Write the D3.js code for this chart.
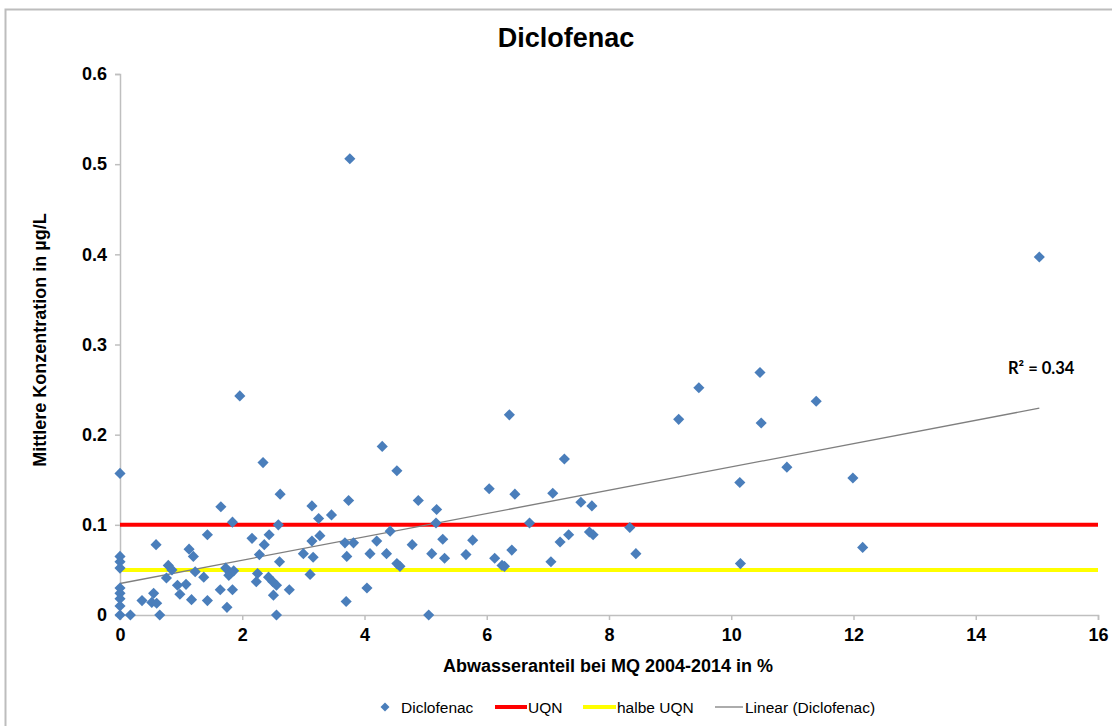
<!DOCTYPE html>
<html>
<head>
<meta charset="utf-8">
<script src="https://cdn.jsdelivr.net/npm/d3@7"></script>
<style>
  html, body { margin: 0; padding: 0; background: #fff; }
  svg { display: block; font-family: "Liberation Sans", Arial, sans-serif; }
</style>
</head>
<body>
<svg id="chart" width="1112" height="726"></svg>
<script>
// Share of wastewater at mean discharge (%) per site
const abwasseranteil = [
  0, 0, 0, 0, 0, 0, 0, 0, 0,
  0.17, 0.36, 0.55, 0.52, 0.60, 0.59, 0.65, 0.79, 0.85, 0.76, 0.94,
  0.98, 1.08, 1.13, 1.20, 1.17, 1.23, 1.37, 1.43, 1.43, 1.64,
  1.65, 1.73, 1.75, 1.81, 1.84, 1.84, 1.78, 1.86, 1.96, 2.16,
  2.23, 2.25, 2.28, 2.34, 2.36, 2.43, 2.44, 2.50, 2.51, 2.56,
  2.56, 2.59, 2.61, 2.62, 2.77, 3.00, 3.11, 3.14, 3.14, 3.16,
  3.25, 3.27, 3.46, 3.68, 3.70, 3.71, 3.74, 3.76, 3.82, 4.04,
  4.09, 4.20, 4.29, 4.36, 4.42, 4.53, 4.53, 4.58, 4.78, 4.88,
  5.05, 5.10, 5.17, 5.18, 5.28, 5.31, 5.66, 5.77, 6.04, 6.13,
  6.25, 6.29, 6.37, 6.41, 6.46, 6.70, 7.05, 7.08, 7.20, 7.27,
  7.34, 7.54, 7.68, 7.72, 7.74, 8.34, 8.44, 9.14, 9.47, 10.14,
  10.15, 10.47, 10.49, 10.91, 11.39, 11.99, 12.15, 15.04
];
// Mean diclofenac concentration (µg/L) per site
const konzentration = [
  0.157, 0.065, 0.059, 0.052, 0.030, 0.024, 0.018, 0.010, 0,
  0, 0.016, 0.024, 0.014, 0.013, 0.078, 0, 0.055, 0.050, 0.041, 0.033,
  0.023, 0.034, 0.073, 0.065, 0.017, 0.048, 0.042, 0.089, 0.016, 0.028,
  0.120, 0.052, 0.0085, 0.046, 0.103, 0.028, 0.044, 0.049, 0.243, 0.085,
  0.037, 0.046, 0.067, 0.169, 0.078, 0.042, 0.089, 0.037, 0.022, 0.033,
  0, 0.100, 0.059, 0.134, 0.028, 0.068, 0.045, 0.121, 0.082, 0.064,
  0.107, 0.088, 0.111, 0.080, 0.015, 0.065, 0.127, 0.506, 0.080, 0.030,
  0.068, 0.082, 0.187, 0.068, 0.093, 0.160, 0.057, 0.054, 0.078, 0.127,
  0, 0.068, 0.102, 0.117, 0.084, 0.063, 0.067, 0.083, 0.140, 0.063,
  0.055, 0.054, 0.222, 0.072, 0.134, 0.102, 0.059, 0.135, 0.081, 0.173,
  0.089, 0.125, 0.092, 0.121, 0.089, 0.097, 0.068, 0.217, 0.252, 0.147,
  0.057, 0.269, 0.213, 0.164, 0.237, 0.152, 0.075, 0.397
];
// Environmental quality standard and half of it (µg/L)
const uqn = 0.1;
const halbeUqn = 0.05;
const xTicks = [0, 2, 4, 6, 8, 10, 12, 14, 16];
const yTicks = [0, 0.1, 0.2, 0.3, 0.4, 0.5, 0.6];
const rSquaredLabel = "R² = 0.34";
const legendLabels = ["Diclofenac", "UQN", "halbe UQN", "Linear (Diclofenac)"];

const points = abwasseranteil.map((v, i) => ({ x: v, y: konzentration[i] }));

const svg = d3.select("#chart");
const x = d3.scaleLinear().domain([0, 16]).range([120, 1098]);
const y = d3.scaleLinear().domain([0, 0.6]).range([615, 74]);

// outer chart frame
svg.append("rect")
  .attr("x", 5.5).attr("y", 9.5).attr("width", 1120).attr("height", 730)
  .attr("fill", "none").attr("stroke", "#bdbdbd").attr("stroke-width", 2);

// title
svg.append("text")
  .attr("x", 566).attr("y", 47).attr("text-anchor", "middle")
  .attr("font-size", 27).attr("font-weight", "bold").attr("fill", "#000")
  .text("Diclofenac");

// axes
const axisColor = "#bfbfbf";
const yAxis = svg.append("g").attr("transform", `translate(${x(0)},0)`)
  .call(d3.axisLeft(y).tickValues(yTicks).tickSize(5).tickPadding(8)
    .tickFormat(d => d === 0 ? "0" : d3.format(".1f")(d)));
const xAxis = svg.append("g").attr("transform", `translate(0,${y(0)})`)
  .call(d3.axisBottom(x).tickValues(xTicks).tickSize(5).tickPadding(8)
    .tickFormat(d3.format("d")));
[yAxis, xAxis].forEach(g => {
  g.select(".domain").attr("stroke", axisColor).attr("stroke-width", 1.5);
  g.selectAll(".tick line").attr("stroke", axisColor).attr("stroke-width", 1.5);
  g.selectAll(".tick text").attr("fill", "#000").attr("font-size", 18)
    .attr("font-weight", "bold").attr("font-family", "'Liberation Sans', Arial, sans-serif");
});

// axis titles
svg.append("text")
  .attr("x", 608).attr("y", 672).attr("text-anchor", "middle")
  .attr("font-size", 18).attr("font-weight", "bold")
  .text("Abwasseranteil bei MQ 2004-2014 in %");
svg.append("text")
  .attr("transform", `translate(46,340) rotate(-90)`).attr("text-anchor", "middle")
  .attr("font-size", 18).attr("font-weight", "bold")
  .text("Mittlere Konzentration in µg/L");

// reference lines
const refLine = (val, color) => svg.append("line")
  .attr("x1", x(0)).attr("x2", x(16)).attr("y1", y(val)).attr("y2", y(val))
  .attr("stroke", color).attr("stroke-width", 4);
refLine(uqn, "#ff0000");
refLine(halbeUqn, "#ffff00");

// least-squares trend line
const mx = d3.mean(points, d => d.x), my = d3.mean(points, d => d.y);
const slope = d3.sum(points, d => (d.x - mx) * (d.y - my)) / d3.sum(points, d => (d.x - mx) ** 2);
const intercept = my - slope * mx;
const xMax = d3.max(points, d => d.x);
svg.append("line")
  .attr("x1", x(0)).attr("y1", y(intercept))
  .attr("x2", x(xMax)).attr("y2", y(intercept + slope * xMax))
  .attr("stroke", "#7f7f7f").attr("stroke-width", 1.3);

// data points as diamonds
const diamond = d3.symbol().type(d3.symbolSquare).size(62);
svg.append("g").selectAll("path").data(points).join("path")
  .attr("d", diamond)
  .attr("transform", d => `translate(${x(d.x)},${y(d.y)}) rotate(45)`)
  .attr("fill", "#4a7ebb");

// R² label
svg.append("text")
  .attr("x", 1008).attr("y", 374)
  .attr("font-family", "Lato, 'Open Sans', sans-serif")
  .attr("font-size", 16.5).attr("font-weight", "bold").attr("fill", "#000")
  .text(rSquaredLabel);

// legend
const ly = 707;
const legend = svg.append("g").attr("font-size", 15.5).attr("fill", "#000");
legend.append("path").attr("d", d3.symbol().type(d3.symbolSquare).size(40))
  .attr("transform", `translate(385,${ly}) rotate(45)`).attr("fill", "#4a7ebb");
legend.append("text").attr("x", 401).attr("y", ly + 5.5).text(legendLabels[0]);
legend.append("line").attr("x1", 495).attr("x2", 527).attr("y1", ly).attr("y2", ly)
  .attr("stroke", "#ff0000").attr("stroke-width", 4);
legend.append("text").attr("x", 528).attr("y", ly + 5.5).text(legendLabels[1]);
legend.append("line").attr("x1", 583).attr("x2", 616).attr("y1", ly).attr("y2", ly)
  .attr("stroke", "#ffff00").attr("stroke-width", 4);
legend.append("text").attr("x", 617).attr("y", ly + 5.5).text(legendLabels[2]);
legend.append("line").attr("x1", 715).attr("x2", 743).attr("y1", ly).attr("y2", ly)
  .attr("stroke", "#7f7f7f").attr("stroke-width", 1.3);
legend.append("text").attr("x", 745).attr("y", ly + 5.5).text(legendLabels[3]);
</script>
</body>
</html>
